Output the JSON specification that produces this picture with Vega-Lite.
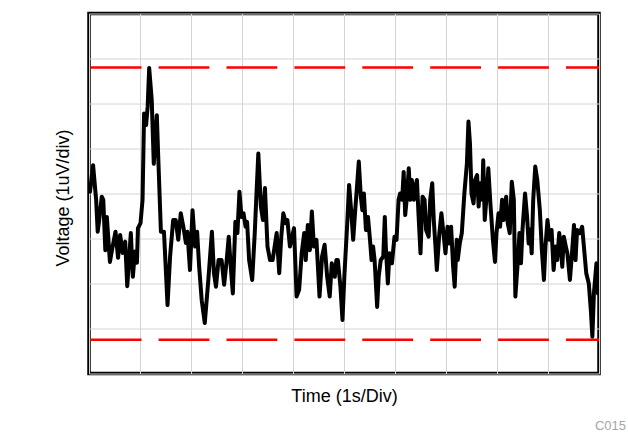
{
  "$schema": "https://vega.github.io/schema/vega-lite/v6.json",
  "autosize": "none",
  "width": 510,
  "height": 360,
  "padding": {"left": 89, "top": 13.5, "right": 29, "bottom": 64.5},
  "background": "white",
  "title": {"text": "C015", "orient": "bottom", "anchor": "end", "frame": "group", "fontSize": 13, "font": "Liberation Sans", "fontWeight": "normal", "color": "#a6a6a6", "offset": 14, "dx": 27},
  "config": {
    "view": {"stroke": "black", "strokeWidth": 3.5},
    "font": "Liberation Sans"
  },
  "datasets": {
    "limits": [{"level": 2.8}, {"level": -3.25}],
    "trace": [
      {"t":0.02,"v":0.04},{"t":0.08,"v":0.63},{"t":0.14,"v":-0.14},{"t":0.17,"v":-0.85},{"t":0.20,"v":-0.59},
      {"t":0.25,"v":-0.07},{"t":0.28,"v":-0.14},{"t":0.32,"v":-1.26},{"t":0.35,"v":-0.52},{"t":0.41,"v":-1.52},
      {"t":0.45,"v":-1.26},{"t":0.52,"v":-0.85},{"t":0.57,"v":-1.43},{"t":0.61,"v":-0.92},{"t":0.66,"v":-1.32},
      {"t":0.71,"v":-1.07},{"t":0.75,"v":-2.06},{"t":0.79,"v":-1.40},{"t":0.82,"v":-0.88},{"t":0.86,"v":-1.85},
      {"t":0.90,"v":-1.29},{"t":0.94,"v":-1.54},{"t":0.96,"v":-0.77},{"t":1.01,"v":-0.66},{"t":1.05,"v":-0.14},
      {"t":1.08,"v":1.78},{"t":1.12,"v":1.52},{"t":1.15,"v":1.93},{"t":1.18,"v":2.79},{"t":1.23,"v":2.08},
      {"t":1.27,"v":0.66},{"t":1.33,"v":1.74},{"t":1.36,"v":0.74},{"t":1.41,"v":-0.85},{"t":1.47,"v":-0.85},
      {"t":1.54,"v":-2.48},{"t":1.59,"v":-1.40},{"t":1.65,"v":-0.59},{"t":1.70,"v":-0.59},{"t":1.75,"v":-1.03},
      {"t":1.80,"v":-0.44},{"t":1.85,"v":-0.74},{"t":1.90,"v":-1.10},{"t":1.93,"v":-0.85},{"t":1.98,"v":-1.70},
      {"t":2.03,"v":-0.37},{"t":2.08,"v":-1.18},{"t":2.12,"v":-0.85},{"t":2.16,"v":-1.63},{"t":2.21,"v":-2.37},
      {"t":2.27,"v":-2.88},{"t":2.34,"v":-1.92},{"t":2.41,"v":-0.85},{"t":2.45,"v":-1.77},{"t":2.49,"v":-2.07},
      {"t":2.54,"v":-1.48},{"t":2.60,"v":-1.48},{"t":2.65,"v":-2.03},{"t":2.70,"v":-1.48},{"t":2.74,"v":-0.96},
      {"t":2.78,"v":-1.63},{"t":2.82,"v":-2.22},{"t":2.87,"v":-0.63},{"t":2.91,"v":-0.88},{"t":2.95,"v":0.04},
      {"t":2.99,"v":-0.52},{"t":3.03,"v":-0.44},{"t":3.07,"v":-0.74},{"t":3.10,"v":-0.63},{"t":3.14,"v":-1.48},
      {"t":3.20,"v":-1.92},{"t":3.25,"v":-0.88},{"t":3.29,"v":0.15},{"t":3.32,"v":0.89},{"t":3.37,"v":-0.29},
      {"t":3.41,"v":-0.59},{"t":3.45,"v":0.12},{"t":3.50,"v":-1.18},{"t":3.55,"v":-1.48},{"t":3.60,"v":-1.48},
      {"t":3.64,"v":-1.18},{"t":3.68,"v":-0.88},{"t":3.73,"v":-1.77},{"t":3.77,"v":-0.96},{"t":3.81,"v":-0.44},
      {"t":3.86,"v":-0.66},{"t":3.89,"v":-0.59},{"t":3.94,"v":-1.18},{"t":3.97,"v":-1.03},{"t":4.02,"v":-0.77},
      {"t":4.07,"v":-2.29},{"t":4.12,"v":-2.14},{"t":4.17,"v":-1.33},{"t":4.22,"v":-0.88},{"t":4.25,"v":-1.48},
      {"t":4.29,"v":-0.70},{"t":4.33,"v":-1.26},{"t":4.37,"v":-0.40},{"t":4.41,"v":-1.18},{"t":4.46,"v":-1.03},
      {"t":4.52,"v":-2.29},{"t":4.57,"v":-1.40},{"t":4.62,"v":-1.14},{"t":4.67,"v":-1.85},{"t":4.72,"v":-2.29},
      {"t":4.76,"v":-1.55},{"t":4.82,"v":-1.85},{"t":4.85,"v":-1.48},{"t":4.88,"v":-1.48},{"t":4.93,"v":-2.07},
      {"t":4.97,"v":-2.81},{"t":5.01,"v":-1.77},{"t":5.06,"v":-0.74},{"t":5.10,"v":0.19},{"t":5.14,"v":-0.37},
      {"t":5.18,"v":-1.03},{"t":5.22,"v":-0.37},{"t":5.25,"v":0.08},{"t":5.29,"v":0.71},{"t":5.33,"v":-0.07},
      {"t":5.36,"v":-0.37},{"t":5.39,"v":0.00},{"t":5.43,"v":-0.81},{"t":5.47,"v":-0.52},{"t":5.51,"v":-1.03},
      {"t":5.54,"v":-1.48},{"t":5.57,"v":-1.18},{"t":5.60,"v":-1.48},{"t":5.65,"v":-2.52},{"t":5.68,"v":-1.85},
      {"t":5.72,"v":-1.48},{"t":5.77,"v":-1.40},{"t":5.80,"v":-0.52},{"t":5.82,"v":-1.18},{"t":5.86,"v":-2.00},
      {"t":5.89,"v":-1.33},{"t":5.94,"v":-1.55},{"t":5.99,"v":-0.96},{"t":6.03,"v":-1.03},{"t":6.07,"v":-0.14},
      {"t":6.10,"v":0.00},{"t":6.14,"v":-0.14},{"t":6.17,"v":0.48},{"t":6.20,"v":-0.48},{"t":6.24,"v":0.00},
      {"t":6.27,"v":0.56},{"t":6.30,"v":-0.14},{"t":6.33,"v":0.30},{"t":6.37,"v":-0.14},{"t":6.40,"v":0.15},
      {"t":6.43,"v":0.30},{"t":6.46,"v":-0.44},{"t":6.50,"v":-1.33},{"t":6.54,"v":-0.07},{"t":6.58,"v":-0.14},
      {"t":6.61,"v":-0.81},{"t":6.66,"v":-0.96},{"t":6.69,"v":-0.14},{"t":6.73,"v":0.23},{"t":6.76,"v":-0.59},
      {"t":6.79,"v":-1.11},{"t":6.82,"v":-1.70},{"t":6.87,"v":-0.88},{"t":6.91,"v":-0.44},{"t":6.95,"v":-0.88},
      {"t":6.99,"v":-1.33},{"t":7.03,"v":-0.74},{"t":7.06,"v":-1.11},{"t":7.10,"v":-0.74},{"t":7.14,"v":-1.63},
      {"t":7.17,"v":-2.07},{"t":7.21,"v":-1.03},{"t":7.23,"v":-1.48},{"t":7.27,"v":-1.11},{"t":7.31,"v":-0.88},
      {"t":7.36,"v":0.00},{"t":7.41,"v":0.67},{"t":7.44,"v":1.60},{"t":7.47,"v":1.11},{"t":7.50,"v":0.00},
      {"t":7.54,"v":-0.22},{"t":7.57,"v":0.30},{"t":7.61,"v":0.41},{"t":7.64,"v":-0.29},{"t":7.67,"v":0.23},
      {"t":7.71,"v":-0.14},{"t":7.73,"v":0.74},{"t":7.76,"v":-0.59},{"t":7.80,"v":0.00},{"t":7.83,"v":0.56},
      {"t":7.87,"v":-0.22},{"t":7.92,"v":-1.03},{"t":7.96,"v":-1.52},{"t":7.99,"v":-0.88},{"t":8.03,"v":-0.44},
      {"t":8.06,"v":-0.74},{"t":8.10,"v":-0.14},{"t":8.13,"v":-0.59},{"t":8.18,"v":-0.07},{"t":8.21,"v":-0.66},
      {"t":8.25,"v":-0.88},{"t":8.29,"v":0.26},{"t":8.33,"v":-0.14},{"t":8.36,"v":-2.29},{"t":8.41,"v":-1.48},
      {"t":8.44,"v":-0.88},{"t":8.47,"v":-1.55},{"t":8.50,"v":-0.81},{"t":8.55,"v":0.00},{"t":8.59,"v":-0.52},
      {"t":8.62,"v":-1.11},{"t":8.65,"v":-0.80},{"t":8.68,"v":-1.33},{"t":8.71,"v":-0.14},{"t":8.75,"v":0.60},
      {"t":8.79,"v":0.30},{"t":8.84,"v":-0.37},{"t":8.88,"v":-1.26},{"t":8.92,"v":-1.92},{"t":8.95,"v":-1.18},
      {"t":8.99,"v":-0.59},{"t":9.03,"v":-1.03},{"t":9.07,"v":-0.81},{"t":9.11,"v":-1.70},{"t":9.15,"v":-1.18},
      {"t":9.18,"v":-1.48},{"t":9.22,"v":-0.88},{"t":9.25,"v":-1.18},{"t":9.28,"v":-1.63},{"t":9.31,"v":-0.96},
      {"t":9.35,"v":-1.18},{"t":9.38,"v":-1.33},{"t":9.43,"v":-1.92},{"t":9.47,"v":-1.33},{"t":9.51,"v":-0.70},
      {"t":9.54,"v":-1.48},{"t":9.57,"v":-0.81},{"t":9.62,"v":-0.88},{"t":9.67,"v":-0.74},{"t":9.71,"v":-1.26},
      {"t":9.75,"v":-1.77},{"t":9.80,"v":-2.00},{"t":9.84,"v":-2.59},{"t":9.87,"v":-3.18},{"t":9.90,"v":-2.22},
      {"t":9.95,"v":-1.55},{"t":9.98,"v":-2.22}
    ]
  },
  "layer": [
    {
      "data": {"name": "limits"},
      "mark": {"type": "rule", "color": "#ff0000", "strokeWidth": 2.5, "strokeDash": [50.8, 17.1], "strokeDashOffset": 17.8},
      "encoding": {
        "y": {
          "field": "level", "type": "quantitative",
          "scale": {"domain": [-4, 4], "nice": false, "zero": false},
          "axis": {
            "title": "Voltage (1uV/div)", "values": [-4, -3, -2, -1, 0, 1, 2, 3, 4],
            "labels": false, "ticks": false, "domain": false,
            "grid": true, "gridColor": "#d4d4d4", "gridWidth": 1,
            "titleFont": "Liberation Sans", "titleFontSize": 18, "titleFontWeight": "normal", "titleColor": "black",
            "titlePadding": 17, "titleY": 184
          }
        }
      }
    },
    {
      "data": {"name": "trace"},
      "mark": {"type": "line", "color": "black", "strokeWidth": 4, "strokeJoin": "round", "strokeCap": "round", "clip": true},
      "encoding": {
        "x": {
          "field": "t", "type": "quantitative",
          "scale": {"domain": [0, 10], "nice": false, "zero": false},
          "axis": {
            "title": "Time (1s/Div)", "values": [0, 1, 2, 3, 4, 5, 6, 7, 8, 9, 10],
            "labels": false, "ticks": false, "domain": false,
            "grid": true, "gridColor": "#d4d4d4", "gridWidth": 1,
            "titleFont": "Liberation Sans", "titleFontSize": 18, "titleFontWeight": "normal", "titleColor": "black",
            "titlePadding": 14
          }
        },
        "y": {"field": "v", "type": "quantitative"}
      }
    }
  ]
}
